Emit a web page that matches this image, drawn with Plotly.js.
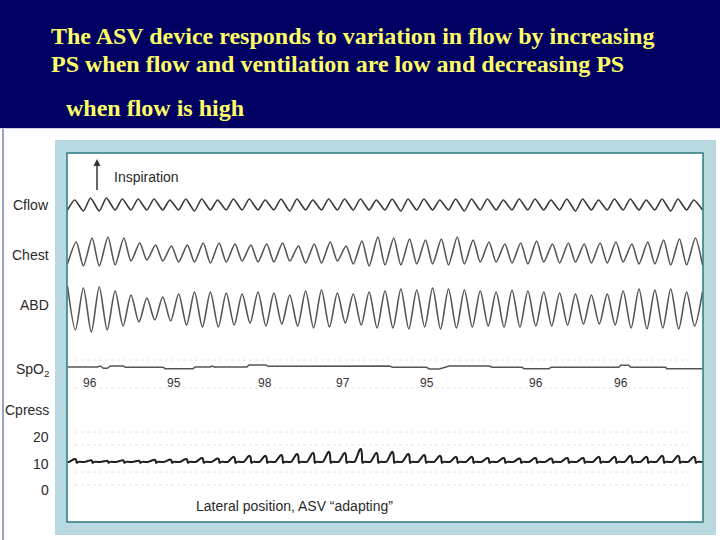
<!DOCTYPE html>
<html><head><meta charset="utf-8">
<script src="https://cdn.plot.ly/plotly-3.0.1.min.js"></script>
<style>html,body{margin:0;padding:0;background:#fff;} #chart{width:720px;height:540px;}</style>
</head><body><div id="chart"></div>
<script>
// ---------- text ----------
const titleLines = [
  "The ASV device responds to variation in flow by increasing",
  "PS when flow and ventilation are low and decreasing PS",
  "when flow is high"
];
const channelLabels = ["Cflow", "Chest", "ABD", "SpO<sub>2</sub>", "Cpress"];
const cpressTickText = ["20", "10", "0"];
const cpressTickVals = [20, 10, 0];
const inspirationLabel = "Inspiration";
const footLabel = "Lateral position, ASV \u201cadapting\u201d";

// ---------- data (one entry per breath, 40 breaths) ----------
const cflowPeak   = [5,7,7,6,6,6,5,6,6,5, 6,6,5,6,6,5,6,6,6,5, 6,6,6,5,6,6,6,5,6,6, 5,6,6,5,6,6,5,6,6,5];
const cflowTrough = [-5,-6,-6,-5,-5,-5,-5,-5,-6,-5, -5,-5,-5,-5,-6,-5,-5,-5,-5,-5, -5,-6,-5,-5,-5,-6,-5,-5,-5,-5, -5,-5,-6,-5,-5,-5,-5,-5,-6,-5];

const chestPeak   = [10,14,15,14,9,7,6,7,9,9, 8,7,8,9,6,8,10,6,11,15, 14,13,12,13,15,12,10,8,9,11, 8,9,8,9,10,8,10,12,13,14];
const chestTrough = [-12,-14,-14,-13,-9,-8,-9,-10,-10,-11, -10,-9,-10,-10,-9,-11,-11,-9,-12,-14, -13,-13,-12,-12,-13,-12,-10,-10,-11,-12, -10,-11,-10,-11,-11,-10,-12,-12,-13,-13];

const abdPeak   = [22,20,21,17,13,10,11,14,16,16, 15,14,16,15,13,17,18,15,14,16, 17,19,18,20,19,18,17,16,18,17, 16,15,14,13,14,17,19,18,19,16];
const abdTrough = [-22,-24,-22,-18,-14,-12,-13,-17,-19,-19, -17,-15,-18,-16,-18,-20,-19,-15,-17,-20, -20,-21,-19,-21,-20,-19,-18,-19,-19,-18, -18,-17,-16,-16,-17,-20,-21,-20,-21,-18];

// SpO2 trace: time (breaths) and deviation of the pen
const spo2Time  = [0,1.88,2.07,2.26,2.51,2.70,3.52,3.64,6.03,6.15,7.91,8.04,8.98,9.11,9.29,9.42,11.30,11.43,12.50,12.62,20.28,20.47,22.61,22.79,23.42,24.05,26.56,26.75,28.63,28.76,30.33,30.46,34.73,34.85,35.35,35.48,37.68,37.74,40];
const spo2Level = [0,0,1,-1.3,-1.3,1,1,-0.3,-0.3,-1.7,-1.7,0,0,1,-0.3,0,0,2,2,0.7,1,-0.3,-0.3,-2,-2,1,1,-0.3,-0.3,-1.7,-1.7,-0.3,-0.3,1.7,1.7,-0.3,-0.3,-1.7,-1.7];
const spo2LabelTime = [1.44, 6.72, 12.43, 17.33, 22.67, 29.51, 34.85];
const spo2LabelText = ["96", "95", "98", "97", "95", "96", "96"];

// Cpress (cmH2O): peak pressure of each breath, expiratory level
const cpressPeak = [11.7,11.2,11.0,11.2,11.0,11.4,11.5,11.7,12.1,11.9, 12.5,12.9,12.9,13.2,13.6,14.0,14.4,14.0,15.5,14.0, 14.4,13.6,13.2,12.9,12.5,12.5,12.1,12.1,11.9,12.1, 11.9,12.1,12.1,12.5,12.5,12.9,12.5,12.9,12.9,12.5];
const cpressEPAP = 10.6;

// ---------- build traces ----------
const N = cflowPeak.length;
function wave(peaks, troughs, peakFirst, peakFrac) {
  const x = [], y = [];
  for (let i = 0; i < N; i++) {
    if (peakFirst) {
      x.push(i); y.push(peaks[i]);
      x.push(i + peakFrac); y.push(troughs[i]);
    } else {
      x.push(i); y.push(troughs[i]);
      x.push(i + peakFrac); y.push(peaks[i]);
    }
  }
  x.push(N); y.push(peakFirst ? peaks[N - 1] : troughs[N - 1]);
  return {x, y};
}
const cf = wave(cflowPeak, cflowTrough, false, 0.45);
const ch = wave(chestPeak, chestTrough, false, 0.55);
const ab = wave(abdPeak, abdTrough, true, 0.5);

// one pressure breath: flat expiratory level, ramp up, rounded top, sharp drop
const cpX = [], cpY = [];
const tmplF = [0, 0.10, 0.28, 0.40, 0.48, 0.54, 0.58, 0.68];
const tmplV = [0, 0.02, 0.55, 0.92, 1.0, 0.7, -0.15, 0];
for (let i = 0; i < N; i++) {
  const p = cpressPeak[i], b = cpressEPAP, d = p - b;
  for (let k = 0; k < tmplF.length; k++) {
    cpX.push(i + tmplF[k]);
    cpY.push(tmplV[k] < 0 ? b - 0.35 : b + d * tmplV[k]);
  }
}
cpX.push(N); cpY.push(cpressEPAP);

const traceStyle = (c, w, s) => ({color: c, width: w, shape: 'spline', smoothing: s});
const data = [
  {x: cf.x, y: cf.y, yaxis: 'y', mode: 'lines', line: traceStyle('#3a3a3a', 1.6, 0.6), hoverinfo: 'skip'},
  {x: ch.x, y: ch.y, yaxis: 'y2', mode: 'lines', line: traceStyle('#555555', 1.6, 0.7), hoverinfo: 'skip'},
  {x: ab.x, y: ab.y, yaxis: 'y3', mode: 'lines', line: traceStyle('#555555', 1.6, 0.8), hoverinfo: 'skip'},
  {x: spo2Time, y: spo2Level, yaxis: 'y4', mode: 'lines', line: {color: '#555555', width: 1.5}, hoverinfo: 'skip'},
  {x: cpX, y: cpY, yaxis: 'y5', mode: 'lines', line: {color: '#1e1e1e', width: 2, shape: 'spline', smoothing: 0.6}, hoverinfo: 'skip'}
];

// ---------- layout ----------
const W = 720, H = 540;
const py = p => 1 - p / H;   // pixel row -> paper y
const pxX = p => p / W;      // pixel col -> paper x
const dom = (top, bot) => [py(bot), py(top)];
const hid = {visible: false, fixedrange: true, anchor: 'x'};

const shapes = [
  {type: 'rect', xref: 'paper', yref: 'paper', x0: 0, x1: 1, y0: py(128), y1: 1, fillcolor: '#000062', line: {width: 0}, layer: 'below'},
  {type: 'line', xref: 'paper', yref: 'paper', x0: 0, x1: 1, y0: py(128.5), y1: py(128.5), line: {color: '#c9cde0', width: 1}, layer: 'below'},
  {type: 'line', xref: 'paper', yref: 'paper', x0: pxX(3), x1: pxX(3), y0: 0, y1: py(129), line: {color: '#9aa2bf', width: 2}, layer: 'below'},
  {type: 'rect', xref: 'paper', yref: 'paper', x0: pxX(55), x1: pxX(716), y0: py(535), y1: py(140), fillcolor: '#b9d9e0', line: {width: 0}, layer: 'below'},
  {type: 'rect', xref: 'paper', yref: 'paper', x0: pxX(67), x1: pxX(703), y0: py(522), y1: py(153), fillcolor: '#ffffff', line: {color: '#2b7a80', width: 1.5}, layer: 'below'}
];
[360, 388, 432, 445, 472, 485].forEach(r => shapes.push({
  type: 'line', xref: 'paper', yref: 'paper', x0: pxX(75), x1: pxX(688), y0: py(r), y1: py(r),
  line: {color: '#e4e4e4', width: 1, dash: 'dot'}, layer: 'below'
}));
// inspiration arrow
shapes.push({type: 'line', xref: 'paper', yref: 'paper', x0: pxX(97), x1: pxX(97), y0: py(190), y1: py(166), line: {color: '#333', width: 1.5}});
shapes.push({type: 'path', xref: 'paper', yref: 'paper', path: 'M 0.1299 0.6926 L 0.1347 0.7056 L 0.1396 0.6926 Z', fillcolor: '#333', line: {width: 0}});

const labFont = {family: 'Liberation Sans, Arial, sans-serif', size: 14, color: '#2a2a2a'};
const annotations = [];
titleLines.forEach((t, i) => annotations.push({
  text: '<b>' + t + '</b>', xref: 'paper', yref: 'paper', x: pxX(i === 2 ? 64 : 49), y: py([36, 64, 108][i]),
  xanchor: 'left', yanchor: 'middle', showarrow: false,
  font: {family: 'Liberation Serif, Times New Roman, serif', size: 24, color: '#ffff66'}
}));
const labRows = [205, 255, 305, 370, 410];
channelLabels.forEach((t, i) => annotations.push({
  text: t, xref: 'paper', yref: 'paper', x: pxX(51), y: py(labRows[i]), xanchor: 'right', yanchor: 'middle',
  showarrow: false, font: labFont
}));
cpressTickText.forEach((t, i) => annotations.push({
  text: t, xref: 'paper', yref: 'y5', x: pxX(51), y: cpressTickVals[i], xanchor: 'right', yanchor: 'middle',
  showarrow: false, font: labFont
}));
spo2LabelText.forEach((t, i) => annotations.push({
  text: t, xref: 'x', yref: 'paper', x: spo2LabelTime[i], y: py(383), xanchor: 'center', yanchor: 'middle',
  showarrow: false, font: {family: 'Liberation Sans, Arial, sans-serif', size: 12, color: '#333'}
}));
annotations.push({
  text: inspirationLabel, xref: 'paper', yref: 'paper', x: pxX(112), y: py(177), xanchor: 'left', yanchor: 'middle',
  showarrow: false, font: labFont
});
annotations.push({
  text: footLabel, xref: 'paper', yref: 'paper', x: pxX(194), y: py(506), xanchor: 'left', yanchor: 'middle',
  showarrow: false, font: labFont
});

const layout = {
  width: W, height: H, margin: {l: 0, r: 0, t: 0, b: 0},
  paper_bgcolor: '#ffffff', plot_bgcolor: 'rgba(0,0,0,0)', showlegend: false,
  xaxis: {domain: [pxX(67.5), pxX(702.5)], range: [0, N], visible: false, fixedrange: true},
  yaxis:  Object.assign({domain: dom(190, 220), range: [-15, 15]}, hid),
  yaxis2: Object.assign({domain: dom(227, 277), range: [-25, 25]}, hid),
  yaxis3: Object.assign({domain: dom(279, 337), range: [-29, 29]}, hid),
  yaxis4: Object.assign({domain: dom(357, 377), range: [-10, 10]}, hid),
  yaxis5: Object.assign({domain: dom(437, 490), range: [0, 20]}, hid),
  shapes: shapes, annotations: annotations
};
Plotly.newPlot('chart', data, layout, {staticPlot: true, displayModeBar: false});
</script></body></html>
